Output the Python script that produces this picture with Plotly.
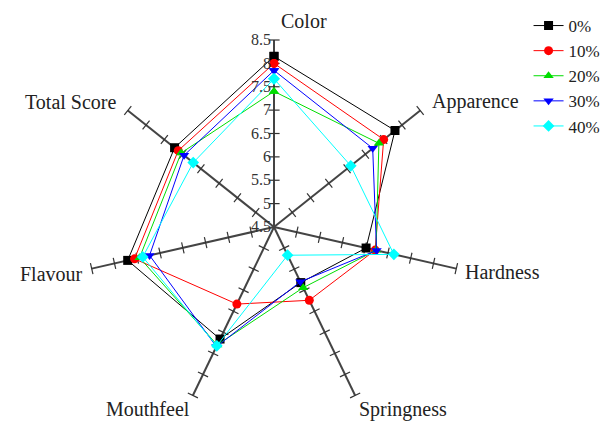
import plotly.graph_objects as go

categories = ["Color", "Apparence", "Hardness", "Springness", "Mouthfeel", "Flavour", "Total Score"]
series_names = ["0%", "10%", "20%", "30%", "40%"]
v0 = [8.15, 7.81, 6.52, 5.82, 7.16, 7.71, 7.22]
v10 = [8.00, 7.50, 6.72, 6.24, 6.33, 7.56, 7.12]
v20 = [7.40, 7.37, 6.74, 5.94, 7.30, 7.45, 7.04]
v30 = [7.85, 7.20, 6.75, 5.80, 7.34, 7.23, 6.96]
v40 = [7.67, 6.60, 7.13, 5.17, 7.32, 7.38, 6.71]
radial_ticks = [4.5, 5, 5.5, 6, 6.5, 7, 7.5, 8, 8.5]

colors = ["#000000", "#FF0000", "#00DD00", "#0000FF", "#00FFFF"]
symbols = ["square", "circle", "triangle-up", "triangle-down", "diamond"]
series = [v0, v10, v20, v30, v40]

FONT = "Liberation Serif, Times New Roman, serif"
W, H = 602, 421

fig = go.Figure()

# tick marks on every spoke
n = len(categories)
tr, tth, tang = [], [], []
for i, c in enumerate(categories):
    for r in radial_ticks[1:]:
        tr.append(r)
        tth.append(c)
        tang.append(360.0 / n * i)
fig.add_trace(go.Scatterpolar(
    r=tr, theta=tth, mode="markers", showlegend=False, hoverinfo="skip",
    marker=dict(symbol="line-ew", size=8, angle=tang,
                line=dict(color="#333333", width=1.2)),
))

for name, vals, col, sym in zip(series_names, series, colors, symbols):
    fig.add_trace(go.Scatterpolar(
        r=vals + [vals[0]], theta=categories + [categories[0]],
        mode="lines+markers", name=name,
        line=dict(color=col, width=1),
        marker=dict(symbol=sym, color=col, size=9, line=dict(width=0)),
    ))

# axis (category) labels placed outside the spokes
label_pos = {  # pixel anchor, xanchor
    "Color": (304, 21, "center"),
    "Apparence": (430, 101, "left"),
    "Hardness": (463, 272, "left"),
    "Springness": (357, 409, "left"),
    "Mouthfeel": (192, 409, "right"),
    "Flavour": (85, 274, "right"),
    "Total Score": (118, 102, "right"),
}
annotations = []
for c in categories:
    px, py, xa = label_pos[c]
    annotations.append(dict(
        text=c, x=px / W, y=1 - py / H, xref="paper", yref="paper",
        xanchor=xa, yanchor="middle", showarrow=False,
        font=dict(size=20, family=FONT, color="#222222"),
    ))

fig.update_layout(
    width=W, height=H,
    margin=dict(l=0, r=0, t=0, b=0, autoexpand=False),
    paper_bgcolor="white", plot_bgcolor="white",
    font=dict(family=FONT, size=17, color="#222222"),
    annotations=annotations,
    polar=dict(
        domain=dict(x=[87 / W, 461 / W], y=[7 / H, 381 / H]),
        bgcolor="white",
        angularaxis=dict(
            rotation=90, direction="clockwise",
            showline=False, showgrid=True, gridcolor="#444444", gridwidth=1.5,
            ticks="", showticklabels=False,
        ),
        radialaxis=dict(
            range=[4.5, 8.5], angle=90, tickangle=90,
            tickvals=radial_ticks, ticktext=[str(t) if t != int(t) else str(int(t)) for t in radial_ticks],
            showgrid=False, showline=False, ticks="",
            tickfont=dict(size=16, family=FONT, color="#333333"),
            side="counterclockwise",
        ),
    ),
    legend=dict(x=0.878, y=0.981, xanchor="left", yanchor="top",
                font=dict(size=17, family=FONT, color="#222222"),
                bgcolor="rgba(0,0,0,0)", tracegroupgap=0),
)

fig.write_html("out.html", config={"displayModeBar": False},
               post_script="document.body.style.margin='0';")
